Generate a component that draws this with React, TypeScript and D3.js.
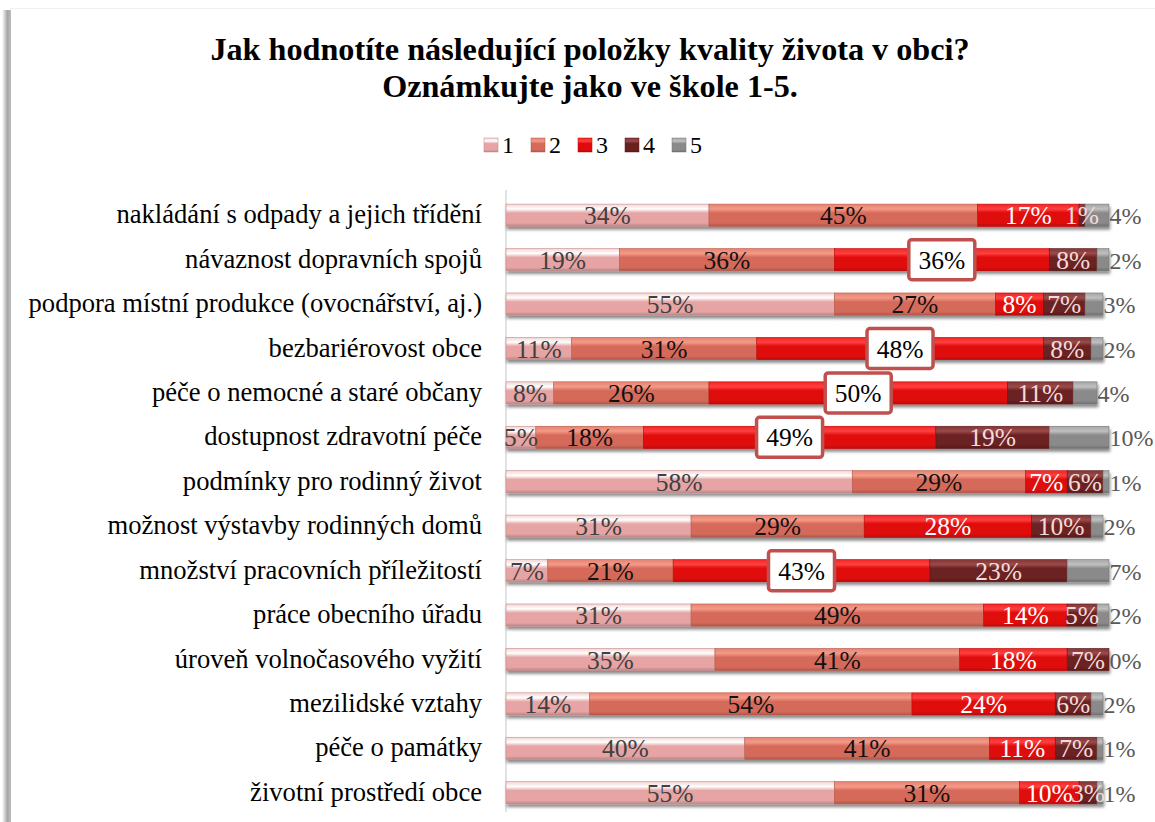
import * as d3 from "d3";
import React from "react";

const categories = [
  "nakládání s odpady a jejich třídění",
  "návaznost dopravních spojů",
  "podpora místní produkce (ovocnářství, aj.)",
  "bezbariérovost obce",
  "péče o nemocné a staré občany",
  "dostupnost zdravotní péče",
  "podmínky pro rodinný život",
  "možnost výstavby rodinných domů",
  "množství pracovních příležitostí",
  "práce obecního úřadu",
  "úroveň volnočasového vyžití",
  "mezilidské vztahy",
  "péče o památky",
  "životní prostředí obce",
];

const grades = ["1", "2", "3", "4", "5"];

const grade1 = [34, 19, 55, 11, 8, 5, 58, 31, 7, 31, 35, 14, 40, 55];
const grade2 = [45, 36, 27, 31, 26, 18, 29, 29, 21, 49, 41, 54, 41, 31];
const grade3 = [17, 36, 8, 48, 50, 49, 7, 28, 43, 14, 18, 24, 11, 10];
const grade4 = [1, 8, 7, 8, 11, 19, 6, 10, 23, 5, 7, 6, 7, 3];
const grade5 = [4, 2, 3, 2, 4, 10, 1, 2, 7, 2, 0, 2, 1, 1];

// rows whose grade-3 label sits in a white callout box
const boxedRows = [1, 3, 4, 5, 8];

const series = [grade1, grade2, grade3, grade4, grade5];

const colors = ["#e6a4a4", "#d56a5a", "#e00a0a", "#6b2020", "#8a8a8a"];
const highlights = ["#ffffff", "#f59a88", "#ff4040", "#9a4a4a", "#c0c0c0"];
const labelColors = ["#404040", "#111111", "#ffffff", "#f2dcdb", "#595959"];

const W = 1155;
const H = 822;
const FONT = "'Liberation Serif', 'Times New Roman', serif";
const FS = 25.5;
const CAT_FS = 26.6;

export default function App() {
  const x = d3.scaleLinear().domain([0, 100]).range([506, 1103]);
  const y = d3
    .scaleBand<number>()
    .domain(d3.range(categories.length))
    .range([193, 815])
    .paddingInner(0.5)
    .paddingOuter(0.25);
  const bh = y.bandwidth();

  const rows = categories.map((c, i) => {
    let acc = 0;
    const segs = series.map((s, k) => {
      const x0 = acc;
      acc += s[i];
      return { k, v: s[i], x0, x1: acc };
    });
    return { c, i, segs };
  });

  const legendX = d3.scalePoint<string>().domain(grades).range([484, 672]);

  return (
    <svg
      width={W}
      height={H}
      style={{ position: "absolute", left: 0, top: 0, background: "#fff" }}
      fontFamily={FONT}
    >
      <defs>
        {colors.map((c, k) => (
          <linearGradient key={k} id={`g${k}`} x1="0" y1="0" x2="0" y2="1">
            <stop offset="0%" stopColor={d3.interpolateRgb(c, highlights[k])(0.5)} />
            <stop offset="22%" stopColor={highlights[k]} />
            <stop offset="40%" stopColor={c} />
            <stop offset="85%" stopColor={c} />
            <stop offset="100%" stopColor={d3.color(c)!.darker(0.6).formatHex()} />
          </linearGradient>
        ))}
        <linearGradient id="leftShadow" x1="0" y1="0" x2="1" y2="0">
          <stop offset="0%" stopColor="#ffffff" />
          <stop offset="60%" stopColor="#a6a6a6" />
          <stop offset="100%" stopColor="#bdbdbd" />
        </linearGradient>
        <filter id="barShadow" x="-5%" y="-30%" width="110%" height="180%">
          <feDropShadow dx="1" dy="3" stdDeviation="1.5" floodColor="#000" floodOpacity="0.45" />
        </filter>
      </defs>

      {/* chart frame shadow */}
      <rect x={2} y={10} width={9} height={H - 10} fill="url(#leftShadow)" />
      <line x1={10} x2={W} y1={8.5} y2={8.5} stroke="#f0f0f0" />

      {/* title */}
      <text x={590} y={60} textAnchor="middle" fontSize={32.2} fontWeight="bold" fill="#000">
        Jak hodnotíte následující položky kvality života v obci?
      </text>
      <text x={590} y={97} textAnchor="middle" fontSize={32.2} fontWeight="bold" fill="#000">
        Oznámkujte jako ve škole 1-5.
      </text>

      {/* legend */}
      {grades.map((g, k) => (
        <g key={g} transform={`translate(${legendX(g)},145)`}>
          <rect x={0} y={-7} width={14} height={14} fill={`url(#g${k})`} stroke={d3.color(colors[k])!.darker(0.5).formatHex()} strokeWidth={0.5} />
          <text x={18} y={8} fontSize={24} fill="#000">
            {g}
          </text>
        </g>
      ))}

      {/* axis line */}
      <line x1={506} x2={506} y1={190} y2={812} stroke="#d9d9d9" strokeWidth={1.5} />

      {rows.map((r) => {
        const yy = y(r.i)!;
        const cy = yy + bh / 2;
        return (
          <g key={r.i}>
            <text x={482} y={cy + 8} textAnchor="end" fontSize={CAT_FS} fill="#000">
              {r.c}
            </text>
            <g filter="url(#barShadow)">
              {r.segs.map((s) =>
                s.v > 0 ? (
                  <rect
                    key={s.k}
                    x={x(s.x0)}
                    y={yy}
                    width={x(s.x1) - x(s.x0)}
                    height={bh}
                    fill={`url(#g${s.k})`}
                    stroke={d3.color(colors[s.k])!.darker(0.4).formatHex()}
                    strokeWidth={0.6}
                  />
                ) : null
              )}
            </g>
            {r.segs.map((s) => {
              const label = `${s.v}%`;
              if (s.k === 4) {
                return (
                  <text key={s.k} x={x(s.x1) + 0.5} y={cy + 9} fontSize={24} fill={labelColors[4]}>
                    {label}
                  </text>
                );
              }
              const mx = (x(s.x0) + x(s.x1)) / 2;
              const boxed = s.k === 2 && boxedRows.includes(r.i);
              return (
                <g key={s.k}>
                  {boxed && (
                    <rect
                      x={mx - 33}
                      y={cy - 20}
                      width={66}
                      height={40}
                      rx={3}
                      fill="#fff"
                      stroke="#c0504d"
                      strokeWidth={3.5}
                    />
                  )}
                  <text
                    x={mx}
                    y={cy + 9}
                    textAnchor="middle"
                    fontSize={FS}
                    fill={boxed ? "#000" : labelColors[s.k]}
                  >
                    {label}
                  </text>
                </g>
              );
            })}
          </g>
        );
      })}
    </svg>
  );
}
